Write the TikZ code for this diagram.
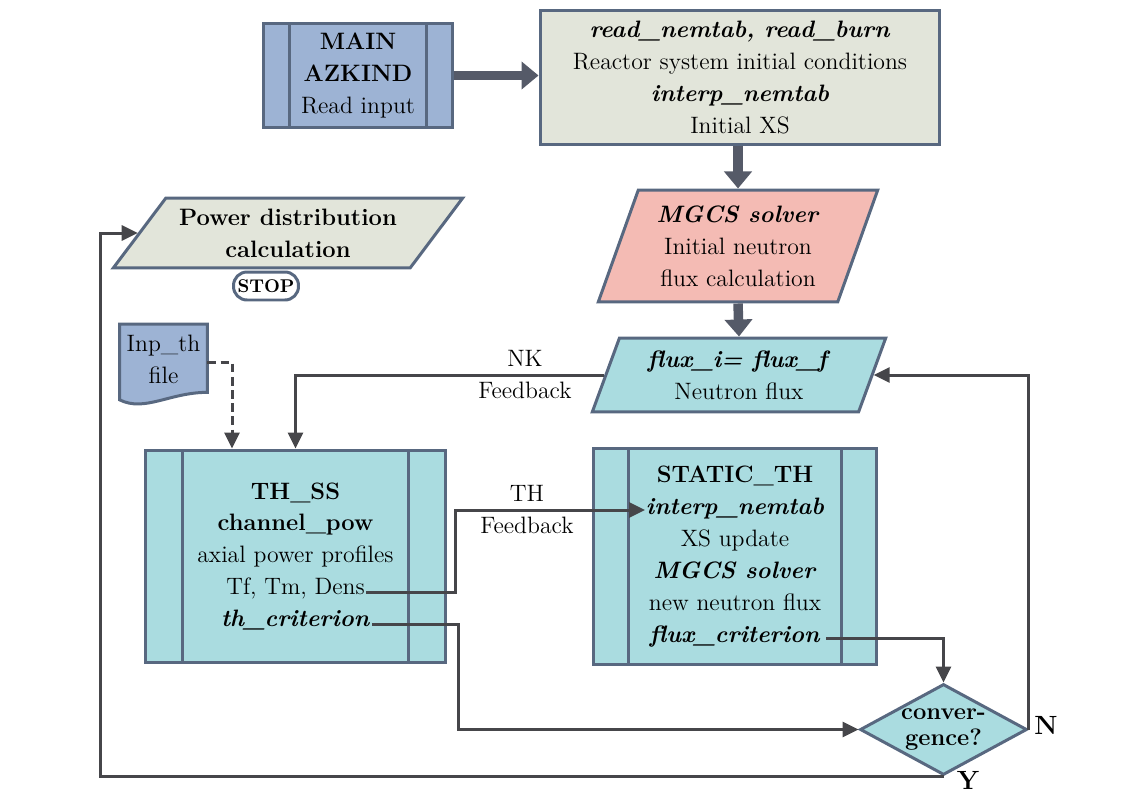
\documentclass[tikz,border=0pt]{standalone}
\usepackage{tikz}
\usetikzlibrary{arrows.meta, shapes.geometric, positioning, calc}

\definecolor{edgec}{RGB}{88,104,128}
\definecolor{mainc}{RGB}{157,179,212}
\definecolor{greyc}{RGB}{226,229,218}
\definecolor{salmc}{RGB}{244,187,180}
\definecolor{cyanc}{RGB}{170,220,224}
\definecolor{linec}{RGB}{70,70,74}
\definecolor{fatc}{RGB}{85,90,104}

\tikzset{
  bar box/.style={rectangle, draw=edgec, line width=.06cm, align=center, inner sep=0pt,
    path picture={\draw[edgec, line width=.06cm]
      ([xshift=#1]path picture bounding box.north west) -- ([xshift=#1]path picture bounding box.south west)
      ([xshift=-#1]path picture bounding box.north east) -- ([xshift=-#1]path picture bounding box.south east);}},
  plain box/.style={rectangle, draw=edgec, line width=.06cm, align=center, inner sep=0pt},
  io node/.style={trapezium, trapezium stretches=true, draw=edgec, line width=.06cm,
    align=center, inner sep=0pt},
  fat arrow/.style={draw=fatc, line width=.19cm, -{Triangle[length=.34cm, width=.54cm]}},
  flow arrow/.style={draw=linec, line width=.06cm, -{Triangle[length=.32cm, width=.3cm]}},
  flow line/.style={draw=linec, line width=.06cm},
  lbl/.style={inner sep=0pt}
}

\begin{document}
\begin{tikzpicture}[x=0.02cm, y=-0.02cm, font=\fontsize{13.5}{18.2}\selectfont]
\useasboundingbox (0,0) rectangle (1142,794);

% top row
\node[bar box=.52cm, fill=mainc, minimum width=3.8cm, minimum height=2.1cm] (main) at (358,75.5)
  {\textbf{MAIN}\\ \textbf{AZKIND}\\ Read input};
\node[plain box, fill=greyc, minimum width=8cm, minimum height=2.7cm] (read) at (740,77.5)
  {\textbf{\textit{read\_nemtab, read\_burn}}\\ Reactor system initial conditions\\
   \textbf{\textit{interp\_nemtab}}\\ Initial XS};

% neutronics
\node[io node, fill=salmc, trapezium left angle=68, trapezium right angle=112,
  minimum width=5.6cm, minimum height=2.24cm] (mgcs) at (738,246)
  {\textbf{\textit{MGCS solver}}\\ Initial neutron\\ flux calculation};
\node[io node, fill=cyanc, trapezium left angle=67, trapezium right angle=113,
  minimum width=5.88cm, minimum height=1.48cm] (flux) at (739,375)
  {\textbf{\textit{flux\_i= flux\_f}}\\ Neutron flux};

% output
\node[io node, fill=greyc, trapezium left angle=46, trapezium right angle=134,
  minimum width=7cm, minimum height=1.4cm] (power) at (288,233)
  {\textbf{Power distribution}\\ \textbf{calculation}};
\node[draw=edgec, line width=.06cm, fill=white, rounded corners=.27cm, minimum width=1.3cm,
  minimum height=.56cm, inner sep=0pt, font=\fontsize{10.5}{12}\selectfont\bfseries] (stop) at (266,286) {STOP};

% input file
\node[minimum width=1.74cm, minimum height=1.5cm, inner sep=0pt, align=center] (inpth) at (163.5,362) {};
\filldraw[fill=mainc, draw=edgec, line width=.06cm]
  (inpth.north west) -- (inpth.north east) -- ([yshift=.15cm]inpth.south east)
  .. controls ([xshift=-.75cm,yshift=.15cm]inpth.south east) and ([xshift=.5cm,yshift=-.25cm]inpth.south west) .. (inpth.south west)
  -- cycle;
\node[align=center] at ([yshift=.05cm]inpth.center) {Inp\_th\\ file};

% thermal hydraulics
\node[bar box=.74cm, fill=cyanc, minimum width=6.02cm, minimum height=4.26cm] (thss) at (295.5,556.5)
  {\textbf{TH\_SS}\\ \textbf{channel\_pow}\\ axial power profiles\\ Tf, Tm, Dens\\ \textbf{\textit{th\_criterion}}};
\node[bar box=.7cm, fill=cyanc, minimum width=5.68cm, minimum height=4.34cm] (static) at (735,556.5)
  {\textbf{STATIC\_TH}\\ \textbf{\textit{interp\_nemtab}}\\ XS update\\ \textbf{\textit{MGCS solver}}\\
   new neutron flux\\ \textbf{\textit{flux\_criterion}}};

\node[diamond, shape aspect=1.8, draw=edgec, line width=.06cm, fill=cyanc, inner sep=0pt, minimum width=3.34cm,
  minimum height=1.82cm, align=center, font=\fontsize{13.5}{15}\selectfont\bfseries] (conv) at (943.5,729.5)
  {conver-\\ gence?};

\coordinate (dens) at (366,592);
\coordinate (thcrit) at (372,624);
\coordinate (fluxcrit) at (826,638);
\coordinate (interp) at (645,510);

% fat arrows
\draw[fat arrow] (main.east) -- (read.west |- main.east);
\draw[fat arrow] (read.south -| mgcs.north) -- (mgcs.north);
\draw[fat arrow] (mgcs.south) -- (flux.north);

% connectors
\draw[flow arrow, dash pattern=on 5pt off 2.5pt] (inpth.east) -| ([xshift=-1.27cm]thss.north);
\draw[flow arrow] (flux.west) -| (thss.north);
\draw[flow arrow] (dens) -- ++(89,0) |- (interp);
\draw[flow arrow] (thcrit) -- ++(86,0) |- (conv.west);
\draw[flow arrow] (fluxcrit) -| (conv.north);
\draw[flow arrow] (conv.east) |- (flux.east);
\draw[flow arrow] (conv.south) -- ++(-843.5,0) |- (power.west);

% labels
\node[lbl] (nk) at (525,358) {NK};
\node[lbl] (nkfb) at (525,390) {Feedback};
\node[lbl] (th) at (527,493) {TH};
\node[lbl] (thfb) at (527,525) {Feedback};
\node[lbl, font=\fontsize{15}{18}\selectfont\bfseries] (nlbl) at (1046,725) {N};
\node[lbl, font=\fontsize{15}{18}\selectfont\bfseries] (ylbl) at (968,780) {Y};
\end{tikzpicture}
\end{document}
